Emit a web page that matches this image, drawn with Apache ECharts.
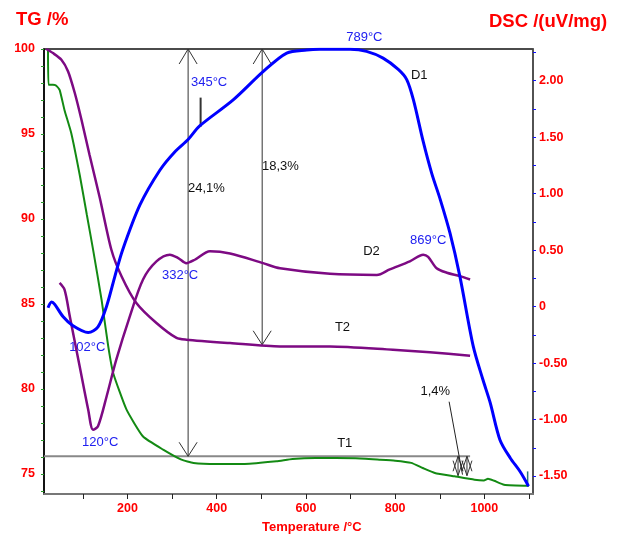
<!DOCTYPE html>
<html>
<head>
<meta charset="utf-8">
<script src="https://cdn.jsdelivr.net/npm/echarts@6/dist/echarts.min.js"></script>
<style>
  html, body { margin: 0; padding: 0; background: #fff; }
  #chart { width: 618px; height: 535px; }
</style>
</head>
<body>
<div id="chart"></div>
<script>
// TG curve T1 (green)
const t1Temp = [22, 23, 33, 39, 48, 59, 74, 93, 109, 123, 142, 157, 168, 198, 235, 280, 321, 348, 400, 463, 534, 570, 622, 711, 765, 800, 836, 862, 889, 933, 978, 999, 1008, 1022, 1044, 1100];
const t1Mass = [100, 97.9, 97.9, 97.87, 97.6, 96.4, 95.06, 92.6, 90.25, 88.2, 85.25, 82.5, 80.94, 78.78, 77.2, 76.43, 75.84, 75.65, 75.59, 75.59, 75.74, 75.88, 75.94, 75.92, 75.84, 75.78, 75.65, 75.35, 75.06, 74.86, 74.66, 74.62, 74.72, 74.6, 74.37, 74.31];

// TG curve T2 (purple)
const t2Temp = [18, 33, 52, 67, 82, 97, 115, 138, 164, 187, 220, 265, 310, 332, 430, 542, 654, 795, 878, 968];
const t2Mass = [100, 99.76, 99.37, 98.68, 97.41, 95.84, 93.78, 91.25, 88.19, 86.62, 85.06, 83.88, 83.0, 82.9, 82.7, 82.5, 82.5, 82.3, 82.16, 81.96];

// DSC curve D1 (blue)
const d1Temp = [22, 30, 37, 56, 78, 112, 134, 153, 172, 189, 228, 273, 306, 336, 362, 437, 504, 557, 602, 631, 699, 736, 773, 807, 826, 841, 863, 882, 901, 923, 945, 975, 997, 1013, 1035, 1058, 1080, 1099];
const d1Dsc = [-0.01, 0.04, 0.02, -0.09, -0.17, -0.23, -0.18, 0.0, 0.27, 0.5, 0.9, 1.21, 1.37, 1.48, 1.6, 1.83, 2.08, 2.245, 2.272, 2.278, 2.278, 2.26, 2.2, 2.1, 2.01, 1.83, 1.46, 1.18, 0.95, 0.65, 0.27, -0.35, -0.65, -0.85, -1.18, -1.34, -1.46, -1.59];

// DSC curve D2 (purple)
const d2Temp = [48, 59, 71, 93, 112, 123, 134, 153, 175, 205, 235, 265, 295, 314, 332, 351, 385, 430, 504, 542, 654, 759, 788, 833, 863, 874, 893, 916, 945, 968];
const d2Dsc = [0.21, 0.15, -0.09, -0.53, -0.91, -1.09, -1.06, -0.80, -0.47, -0.09, 0.24, 0.40, 0.46, 0.43, 0.385, 0.415, 0.49, 0.47, 0.385, 0.34, 0.29, 0.28, 0.33, 0.40, 0.46, 0.44, 0.34, 0.30, 0.27, 0.24];

// axis ticks / labels
const tempTicks = [100, 200, 300, 400, 500, 600, 700, 800, 900, 1000, 1100];
const tempLabels = [200, 400, 600, 800, 1000];
const tgTicks = [74, 75, 76, 77, 78, 79, 80, 81, 82, 83, 84, 85, 86, 87, 88, 89, 90, 91, 92, 93, 94, 95, 96, 97, 98, 99, 100];
const tgLabels = [75, 80, 85, 90, 95, 100];
const dscTicks = [-1.5, -1.25, -1, -0.75, -0.5, -0.25, 0, 0.25, 0.5, 0.75, 1, 1.25, 1.5, 1.75, 2, 2.25];
const dscLabels = [-1.5, -1, -0.5, 0, 0.5, 1, 1.5, 2];

// annotations (temperature, TG %)
const t1Level = 76.04;
const stepArrows = [ // temp, from, to
  [336, 100, t1Level],
  [502, 100, 82.6],
  [941, t1Level, 74.9],
  [961, t1Level, 74.9]
];
const notes = [ // temp, TG, text, colour
  [383, 98.05, '345°C', '#2020f0'],
  [731, 100.7, '789°C', '#2020f0'],
  [854, 98.47, 'D1', '#111'],
  [747, 88.12, 'D2', '#111'],
  [874, 88.75, '869°C', '#2020f0'],
  [682, 83.64, 'T2', '#111'],
  [318, 86.68, '332°C', '#2020f0'],
  [110, 82.46, '102°C', '#2020f0'],
  [139, 76.87, '120°C', '#2020f0'],
  [687, 76.82, 'T1', '#111'],
  [890, 79.84, '1,4%', '#111'],
  [377, 91.78, '24,1%', '#111'],
  [543, 93.08, '18,3%', '#111']
];

const zip = (a, b) => a.map((v, i) => [v, b[i]]);
const FONT = "'Liberation Sans', Arial, sans-serif";

function renderNotes(params, api) {
  const kids = [];
  const seg = (p, q, color, w) => kids.push({
    type: 'line', shape: { x1: p[0], y1: p[1], x2: q[0], y2: q[1] },
    style: { stroke: color, lineWidth: w }
  });
  const head = (p, dir, hw, hh) => kids.push({
    type: 'polyline',
    shape: { points: [[p[0] - hw, p[1] + dir * hh], [p[0], p[1]], [p[0] + hw, p[1] + dir * hh]] },
    style: { stroke: '#333', fill: null, lineWidth: 1 }
  });

  // T1 level line
  seg(api.coord([13, t1Level]), api.coord([968, t1Level]), '#888', 2);

  stepArrows.forEach(([t, a, b], i) => {
    const p = api.coord([t, a]);
    const q = api.coord([t, b]);
    const small = i > 1;
    seg(p, q, '#333', 1);
    head(p, 1, small ? 5 : 9, 15);
    head(q, -1, small ? 5 : 9, small ? 15 : 14);
  });

  // leader for 1,4 %
  seg(api.coord([921, 79.25]), api.coord([951, 74.96]), '#222', 1);
  // marker at 345 °C
  seg(api.coord([364, 97.14]), api.coord([364, 95.43]), '#333', 2);
  // end cursor
  seg(api.coord([1097, 75.15]), api.coord([1097, 74.37]), '#2a7a7a', 1.5);

  notes.forEach(([t, v, txt, col]) => {
    const p = api.coord([t, v]);
    kids.push({
      type: 'text', x: p[0], y: p[1],
      style: { text: txt, fill: col, font: '13px ' + FONT, align: 'center', verticalAlign: 'middle' }
    });
  });
  return { type: 'group', children: kids };
}

const chart = echarts.init(document.getElementById('chart'));

const labelStyle = { color: '#ff0000', fontWeight: 'bold', fontSize: 12.5, fontFamily: FONT };

let option = {
  animation: false,
  backgroundColor: '#fff',
  grid: { left: 44, right: 85, top: 49, bottom: 41, show: true, borderColor: '#111', borderWidth: 1.5 },
  graphic: [
    { type: 'text', left: 16, top: 10, style: { text: 'TG /%', fill: '#ff0000', font: 'bold 18.5px ' + FONT } },
    { type: 'text', left: 489, top: 12, style: { text: 'DSC /(uV/mg)', fill: '#ff0000', font: 'bold 18.5px ' + FONT } },
    { type: 'text', left: 262, top: 521, style: { text: 'Temperature /°C', fill: '#ff0000', font: 'bold 13px ' + FONT } }
  ],
  xAxis: {
    type: 'value', min: 13, max: 1109, position: 'bottom',
    axisLine: { show: true, onZero: false, lineStyle: { color: '#777', width: 2 } },
    axisTick: { show: true, inside: false, customValues: tempTicks, length: 5, lineStyle: { color: '#222', width: 1 } },
    axisLabel: Object.assign({ customValues: tempLabels, margin: 8, formatter: v => String(v) }, labelStyle),
    splitLine: { show: false }
  },
  yAxis: [
    {
      type: 'value', min: 73.82, max: 100, position: 'left',
      axisLine: { show: true, onZero: false, lineStyle: { color: '#000', width: 1.5 } },
      axisTick: { show: true, inside: false, customValues: tgTicks, length: 3, lineStyle: { color: '#2a9a2a' } },
      axisLabel: Object.assign({ customValues: tgLabels, margin: 9 }, labelStyle),
      splitLine: { show: false }
    },
    {
      type: 'value', min: -1.659, max: 2.281, position: 'right',
      axisLine: { show: true, onZero: false, lineStyle: { color: '#555', width: 1.5 } },
      axisTick: { show: true, inside: false, customValues: dscTicks, length: 3, lineStyle: { color: '#1010ff' } },
      axisLabel: Object.assign({
        customValues: dscLabels, margin: 6,
        formatter: v => (v === 0 ? '0' : v.toFixed(2))
      }, labelStyle),
      splitLine: { show: false }
    }
  ],
  series: [
    {
      type: 'custom', name: 'notes', coordinateSystem: 'cartesian2d',
      xAxisIndex: 0, yAxisIndex: 0, clip: false, silent: true, z: 1,
      renderItem: renderNotes, data: [[500, 90]]
    },
    {
      type: 'line', name: 'T1', yAxisIndex: 0, data: zip(t1Temp, t1Mass), showSymbol: false,
      smooth: 0.15, lineStyle: { color: '#138a13', width: 2 }, z: 3
    },
    {
      type: 'line', name: 'T2', yAxisIndex: 0, data: zip(t2Temp, t2Mass), showSymbol: false,
      smooth: 0.25, lineStyle: { color: '#7d0a83', width: 2.5 }, z: 3
    },
    {
      type: 'line', name: 'D2', yAxisIndex: 1, data: zip(d2Temp, d2Dsc), showSymbol: false,
      smooth: 0.3, lineStyle: { color: '#7d0a83', width: 2.5 }, z: 3
    },
    {
      type: 'line', name: 'D1', yAxisIndex: 1, data: zip(d1Temp, d1Dsc), showSymbol: false,
      smooth: 0.3, lineStyle: { color: '#0000ff', width: 3 }, z: 4
    }
  ]
};

option && chart.setOption(option);
</script>
</body>
</html>
